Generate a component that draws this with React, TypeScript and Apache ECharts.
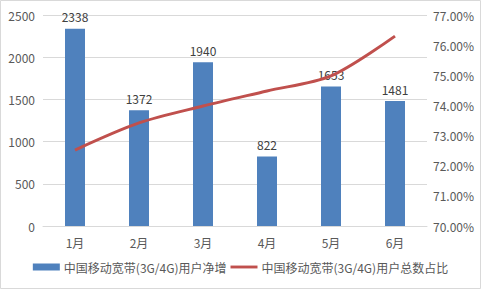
import React, { useEffect, useRef } from "react";
import * as echarts from "echarts";

const categories = ["1月", "2月", "3月", "4月", "5月", "6月"];
const netAdds = [2338, 1372, 1940, 822, 1653, 1481];
const sharePct = [72.52, 73.42, 73.98, 74.48, 74.98, 76.3];
const barName = "中国移动宽带(3G/4G)用户净增";
const lineName = "中国移动宽带(3G/4G)用户总数占比";

const FONT = "'Noto Sans CJK SC', 'Liberation Sans', sans-serif";

export default function App() {
  const ref = useRef<HTMLDivElement>(null);
  useEffect(() => {
    if (!ref.current) return;
    const chart = echarts.init(ref.current, undefined, { renderer: "svg" });
    chart.setOption({
      animation: false,
      backgroundColor: "#ffffff",
      textStyle: { fontFamily: FONT },
      graphic: [
        {
          type: "rect",
          shape: { x: 0.5, y: 0.5, width: 480, height: 288 },
          style: { fill: "none", stroke: "#d9d9d9", lineWidth: 1 },
          silent: true,
        },
      ],
      grid: { left: 43, right: 54, top: 15, bottom: 63 },
      legend: {
        bottom: 11,
        left: "center",
        itemGap: 4,
        textStyle: { color: "#595959", fontSize: 12, fontFamily: FONT, padding: [0, 0, 0, -1] },
        data: [
          { name: barName, icon: "rect" },
          { name: lineName, icon: "path://M0,0H28V3H0Z", itemStyle: { color: "#c0504d" } },
        ],
        itemWidth: 27,
        itemHeight: 7,
      },
      xAxis: {
        type: "category",
        data: categories,
        axisTick: { show: false },
        axisLine: { lineStyle: { color: "#d9d9d9" } },
        axisLabel: { color: "#595959", fontSize: 12, margin: 10, fontFamily: FONT },
      },
      yAxis: [
        {
          type: "value",
          min: 0,
          max: 2500,
          interval: 500,
          axisLine: { show: false },
          axisTick: { show: false },
          splitLine: { lineStyle: { color: "#d9d9d9" } },
          axisLabel: {
            color: "#595959",
            fontSize: 12,
            margin: 8,
            fontFamily: FONT,
            formatter: (v: number) => String(v),
          },
        },
        {
          type: "value",
          min: 70,
          max: 77,
          interval: 1,
          axisLine: { show: false },
          axisTick: { show: false },
          splitLine: { show: false },
          axisLabel: {
            color: "#595959",
            fontSize: 12,
            margin: 6,
            fontFamily: FONT,
            formatter: (v: number) => v.toFixed(2) + "%",
          },
        },
      ],
      series: [
        {
          name: barName,
          type: "bar",
          data: netAdds,
          barWidth: 20,
          itemStyle: { color: "#4f81bd" },
          label: {
            show: true,
            position: "top",
            distance: 6,
            color: "#404040",
            fontSize: 12,
            fontFamily: FONT,
          },
        },
        {
          name: lineName,
          type: "line",
          yAxisIndex: 1,
          data: sharePct,
          smooth: 0.3,
          symbol: "none",
          showSymbol: false,
          lineStyle: { color: "#c0504d", width: 3 },
          itemStyle: { color: "#c0504d" },
          z: 3,
        },
      ],
    });
    return () => chart.dispose();
  }, []);
  return (
    <div
      ref={ref}
      style={{ position: "fixed", left: 0, top: 0, width: 481, height: 289 }}
    />
  );
}
